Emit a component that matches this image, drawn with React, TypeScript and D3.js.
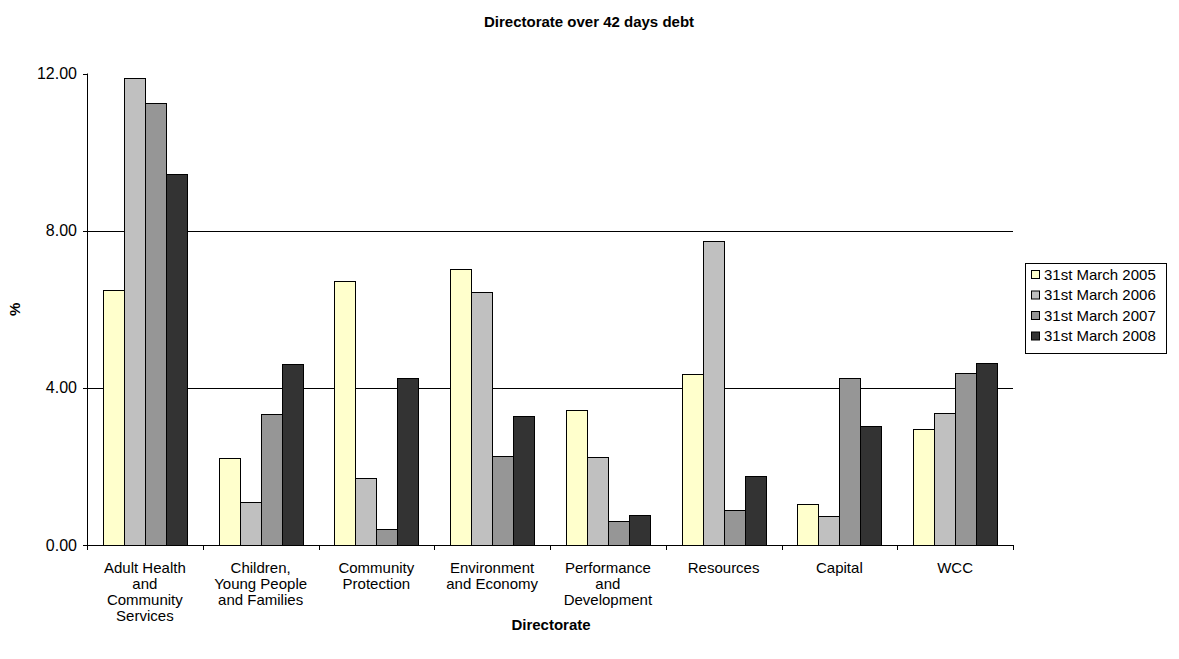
import React from "react";
import * as d3 from "d3";

const categories: string[][] = [
  ["Adult Health", "and", "Community", "Services"],
  ["Children,", "Young People", "and Families"],
  ["Community", "Protection"],
  ["Environment", "and Economy"],
  ["Performance", "and", "Development"],
  ["Resources"],
  ["Capital"],
  ["WCC"],
];
const seriesNames = ["31st March 2005", "31st March 2006", "31st March 2007", "31st March 2008"];
const s2005 = [6.49, 2.22, 6.73, 7.03, 3.44, 4.35, 1.04, 2.94];
const s2006 = [11.88, 1.09, 1.71, 6.44, 2.25, 7.74, 0.74, 3.37];
const s2007 = [11.25, 3.33, 0.4, 2.26, 0.61, 0.9, 4.25, 4.39];
const s2008 = [9.44, 4.6, 4.26, 3.28, 0.76, 1.76, 3.03, 4.64];
const seriesValues = [s2005, s2006, s2007, s2008];
const colors = ["#FFFFCC", "#C0C0C0", "#969696", "#333333"];
const yTicks = [0, 4, 8, 12];

const W = 1179, H = 659;
const left = 87, right = 1013, top = 73.5, bottom = 545;
const font = "Arial, 'Liberation Sans', sans-serif";

export default function App() {
  const x = d3.scaleBand<number>().domain(d3.range(categories.length)).range([left, right]).paddingInner(0).paddingOuter(0);
  const y = d3.scaleLinear().domain([0, 12]).range([bottom, top]);
  const bw = x.bandwidth();
  const inner = d3.scaleBand<number>().domain(d3.range(4)).range([0, bw]).paddingOuter(0.75).paddingInner(0);
  const bwInner = inner.bandwidth();

  return (
    <svg width={W} height={H} style={{ position: "absolute", left: 0, top: 0, background: "#fff" }} fontFamily={font}>
      <rect x={0} y={0} width={W} height={H} fill="#fff" />
      <text x={589} y={27} textAnchor="middle" fontSize={15} fontWeight="bold">Directorate over 42 days debt</text>
      {/* gridlines */}
      {yTicks.filter(t => t > 0 && t < 12).map(t => (
        <line key={t} x1={left} x2={right} y1={Math.round(y(t)) + 0.5} y2={Math.round(y(t)) + 0.5} stroke="#000" strokeWidth={1} />
      ))}
      {/* bars */}
      {seriesValues.map((vals, si) =>
        vals.map((v, ci) => {
          const bx = (x(ci) as number) + (inner(si) as number);
          return (
            <rect key={si + "-" + ci} x={Math.round(bx) + 0.5} y={Math.round(y(v)) + 0.5} width={Math.round(bwInner)} height={Math.round(bottom) - Math.round(y(v))}
              fill={colors[si]} stroke="#000" strokeWidth={1} />
          );
        })
      )}
      {/* y axis */}
      <line x1={left + 0.5} x2={left + 0.5} y1={top} y2={bottom} stroke="#000" />
      {yTicks.map(t => (
        <g key={t}>
          <line x1={left - 4} x2={left} y1={Math.round(y(t)) + 0.5} y2={Math.round(y(t)) + 0.5} stroke="#000" />
          <text x={left - 10} y={y(t) + 5.5} textAnchor="end" fontSize={16}>{t.toFixed(2)}</text>
        </g>
      ))}
      {/* x axis */}
      <line x1={left} x2={right} y1={bottom + 0.5} y2={bottom + 0.5} stroke="#000" />
      {d3.range(categories.length + 1).map(i => {
        const xx = Math.round(left + i * bw) + 0.5;
        return <line key={i} x1={xx} x2={xx} y1={bottom} y2={bottom + 5} stroke="#000" />;
      })}
      {categories.map((lines, ci) => (
        <text key={ci} x={(x(ci) as number) + bw / 2} y={573} textAnchor="middle" fontSize={15}>
          {lines.map((l, li) => (
            <tspan key={li} x={(x(ci) as number) + bw / 2} dy={li === 0 ? 0 : 16}>{l}</tspan>
          ))}
        </text>
      ))}
      <text x={551} y={630} textAnchor="middle" fontSize={15} fontWeight="bold">Directorate</text>
      <text transform={`translate(20,${(top + bottom) / 2}) rotate(-90)`} textAnchor="middle" fontSize={15} fontWeight="bold">%</text>
      {/* legend */}
      <rect x={1025.5} y={263.5} width={141} height={90} fill="#fff" stroke="#000" />
      {seriesNames.map((n, i) => (
        <g key={n}>
          <rect x={1031.5} y={270.5 + i * 20.5} width={8} height={8} fill={colors[i]} stroke="#000" />
          <text x={1044} y={279.5 + i * 20.5} fontSize={15}>{n}</text>
        </g>
      ))}
    </svg>
  );
}
